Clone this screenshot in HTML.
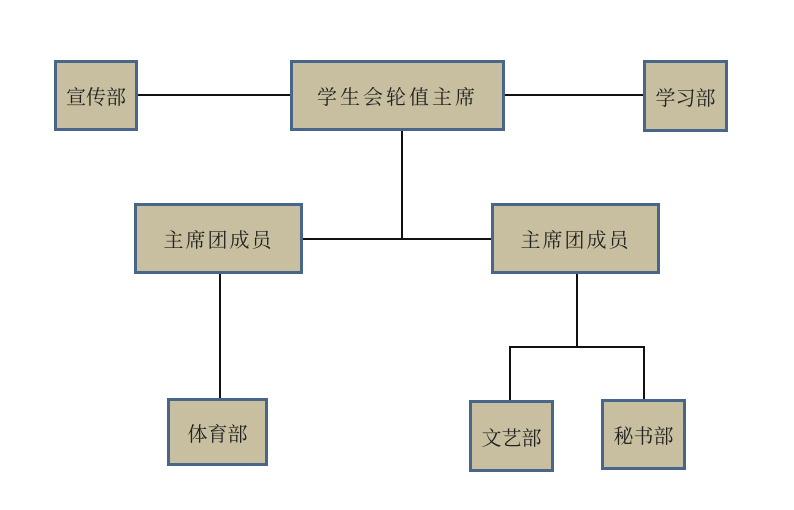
<!DOCTYPE html>
<html><head><meta charset="utf-8"><style>
body{margin:0;width:794px;height:510px;background:#fff;position:relative;overflow:hidden;font-family:"Liberation Serif","Noto Serif CJK SC",serif}
.b{position:absolute;box-sizing:border-box;background:#c7bf9f;border:3px solid #48658a;display:flex;align-items:center;justify-content:center;font-size:20px;color:#222}
.l{position:absolute;background:#111}
</style></head><body>
<div class="l" style="left:138px;top:94px;width:153px;height:1.5px"></div>
<div class="l" style="left:504px;top:94px;width:140px;height:1.5px"></div>
<div class="l" style="left:401px;top:131px;width:1.5px;height:108px"></div>
<div class="l" style="left:303px;top:238px;width:189px;height:1.5px"></div>
<div class="l" style="left:219px;top:274px;width:1.5px;height:125px"></div>
<div class="l" style="left:576px;top:274px;width:1.5px;height:73px"></div>
<div class="l" style="left:509px;top:346px;width:135px;height:1.5px"></div>
<div class="l" style="left:509px;top:346px;width:1.5px;height:55px"></div>
<div class="l" style="left:643px;top:346px;width:1.5px;height:55px"></div>
<div class="b" style="left:54px;top:60px;width:84px;height:71px">宣传部</div>
<div class="b" style="left:290px;top:60px;width:215px;height:71px;letter-spacing:3px">学生会轮值主席</div>
<div class="b" style="left:643px;top:60px;width:85px;height:72px">学习部</div>
<div class="b" style="left:134px;top:203px;width:169px;height:71px;letter-spacing:2px">主席团成员</div>
<div class="b" style="left:491px;top:203px;width:169px;height:71px;letter-spacing:2px">主席团成员</div>
<div class="b" style="left:167px;top:398px;width:101px;height:68px">体育部</div>
<div class="b" style="left:469px;top:400px;width:85px;height:72px">文艺部</div>
<div class="b" style="left:601px;top:399px;width:85px;height:71px">秘书部</div>
</body></html>
